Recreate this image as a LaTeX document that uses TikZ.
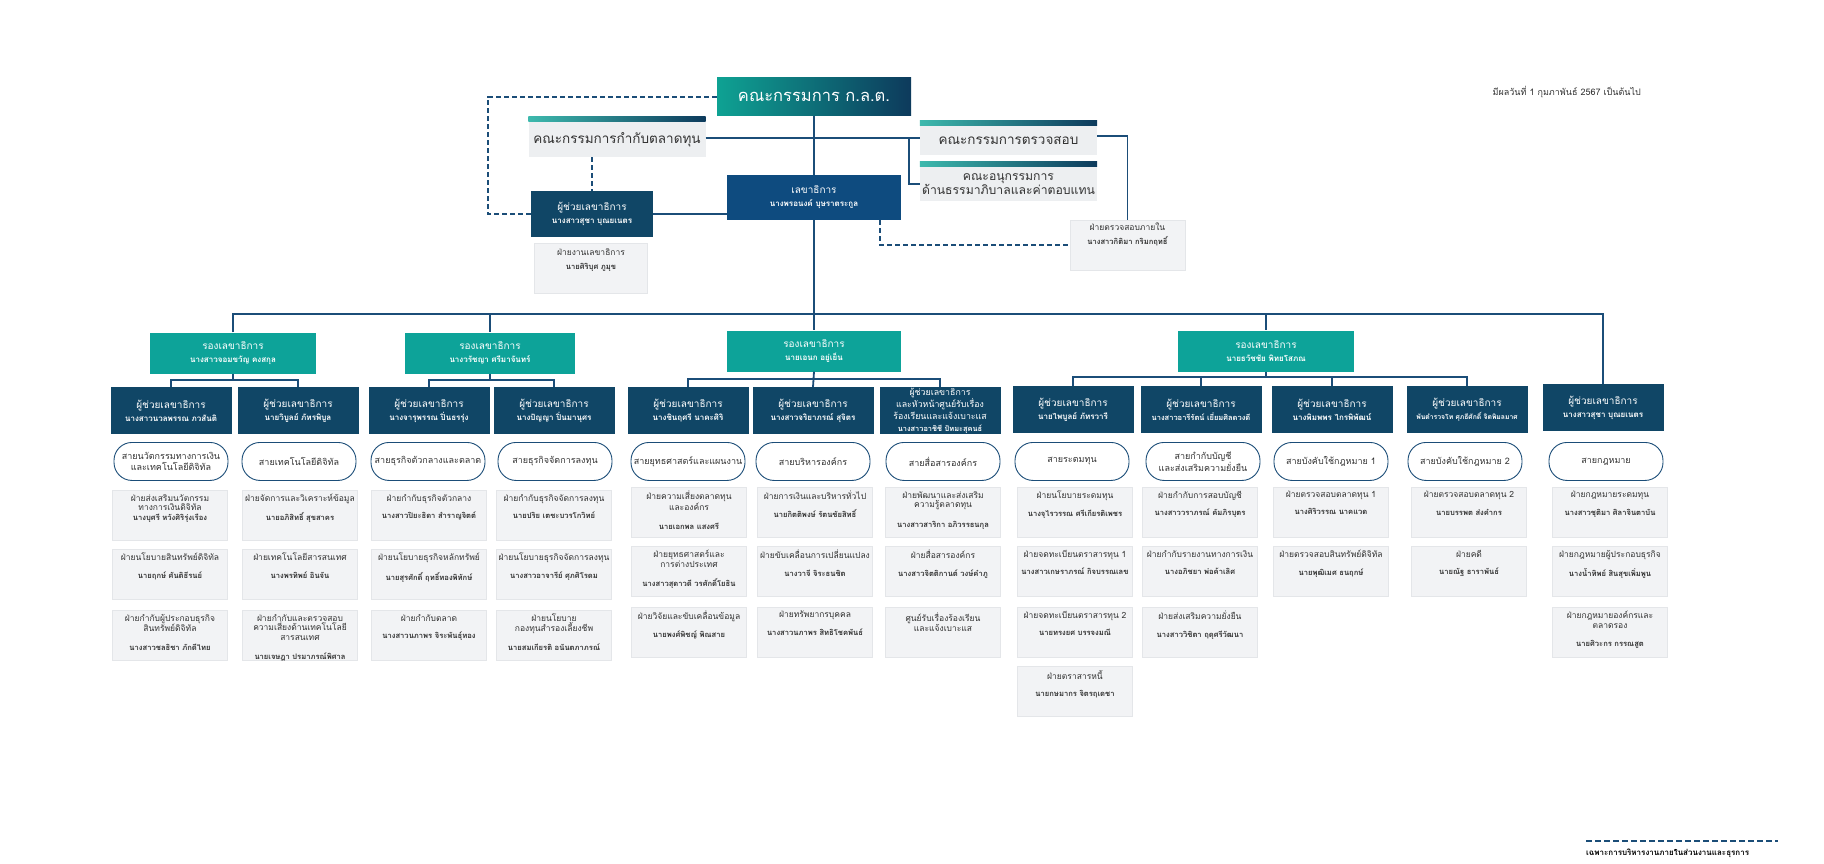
\documentclass[tikz,border=0pt]{standalone}
\usepackage{fontspec}
\setmainfont[Script=Thai]{Loma}
\definecolor{lnc}{HTML}{1B4D78}
\definecolor{tealc}{HTML}{0DA399}
\definecolor{navyc}{HTML}{104666}
\definecolor{sgc}{HTML}{0E4B7F}
\definecolor{boardg}{HTML}{EDEFF1}
\definecolor{boxg}{HTML}{F2F3F5}
\definecolor{boxb}{HTML}{E4E6E9}
\definecolor{gradL}{HTML}{0EA293}
\definecolor{gradR}{HTML}{0D3A5C}
\definecolor{barL}{HTML}{3DB9AD}
\definecolor{txtg}{HTML}{333333}
\tikzset{
 ln/.style={draw=lnc, line width=1.8pt},
 dln/.style={draw=lnc, line width=1.8pt, dash pattern=on 5pt off 3pt},
 depbox/.style={fill=tealc, text=white, minimum height=41pt, align=center, inner sep=0pt},
 asbox/.style={fill=navyc, text=white, minimum width=121pt, minimum height=47pt, align=center, inner sep=0pt, anchor=north},
 pillbox/.style={draw=lnc, line width=0.9pt, fill=white, rounded corners=18pt, minimum width=114pt, minimum height=38pt, align=center, inner sep=0pt, anchor=north, font=\fontsize{9}{10.5}\selectfont, text=txtg},
 dbox/.style={fill=boxg, draw=boxb, line width=0.6pt, minimum width=115pt, minimum height=50pt, anchor=north, inner sep=0pt},
 dtxt/.style={anchor=north, align=center, inner sep=0pt, font=\fontsize{8.5}{9.5}\selectfont, text=txtg},
 board/.style={fill=boardg, minimum width=177pt, align=center, inner sep=0pt, font=\fontsize{13.5}{13}\selectfont, text=txtg},
}
\newcommand\dept[6]{%
  \node[dbox] (#1) at (#2,#3) {};
  \node[dtxt] (#1t) at ([yshift=-4pt]#1.north) {#5\\[#4]{\fontsize{7.6}{9}\selectfont\bfseries #6}};
}
\newcommand\astwo[2]{{\fontsize{10}{11}\selectfont #1}\\[1pt]{\fontsize{8}{9.5}\selectfont\bfseries #2}}
\begin{document}
\begin{tikzpicture}[x=1pt,y=-1pt]
\fill[white] (0,0) rectangle (1824,864);
\useasboundingbox (0,0) rectangle (1824,864);

% ---- top level
\node[left color=gradL, right color=gradR, text=white, minimum width=194pt, minimum height=38pt, font=\fontsize{16.5}{18}\selectfont, inner sep=0pt] (m) at (814,97) {คณะกรรมการ ก.ล.ต.};
\node[board, minimum height=35pt] (b1) at (617,139.5) {คณะกรรมการกำกับตลาดทุน};
\shade[left color=barL, right color=gradR] ([yshift=5pt]b1.north west) rectangle (b1.north east);
\node[board, minimum height=29pt] (b2) at (1008.5,140.5) {คณะกรรมการตรวจสอบ};
\shade[left color=barL, right color=gradR] ([yshift=5pt]b2.north west) rectangle (b2.north east);
\node[board, minimum height=34pt, font=\fontsize{12.2}{12.5}\selectfont] (b3) at (1008.5,184) {คณะอนุกรรมการ\\ด้านธรรมาภิบาลและค่าตอบแทน};
\shade[left color=barL, right color=gradR] ([yshift=5pt]b3.north west) rectangle (b3.north east);

\node[fill=sgc, text=white, minimum width=174pt, minimum height=45pt, align=center, inner sep=0pt] (sg) at (814,197.5) {\astwo{เลขาธิการ}{นางพรอนงค์ บุษราตระกูล}};
\node[fill=navyc, text=white, minimum width=122pt, minimum height=46pt, align=center, inner sep=0pt] (ta) at (592,214) {\astwo{ผู้ช่วยเลขาธิการ}{นางสาวสุชา บุณยเนตร}};
\node[dbox, minimum width=113pt] (sec) at (591,243) {};
\node[dtxt] (sect) at ([yshift=-5pt]sec.north) {ฝ่ายงานเลขาธิการ\\[5pt]{\fontsize{7.6}{9}\selectfont\bfseries นายศิริบุศ ภูมุข}};
\node[dbox] (ins) at (1127.5,219.5) {};
\node[dtxt] (inst) at ([yshift=-3pt]ins.north) {ฝ่ายตรวจสอบภายใน\\[5pt]{\fontsize{7.6}{9}\selectfont\bfseries นางสาวกิติมา กริมกฤทธิ์}};

\node[anchor=east, font=\fontsize{9}{10}\selectfont, text=txtg, inner sep=0pt] (date) at (1641,92) {มีผลวันที่ 1 กุมภาพันธ์ 2567 เป็นต้นไป};

% top connectors
\draw[ln] (m.south) -- (sg.north);
\coordinate (by) at (0,138);
\coordinate (by2) at (0,136);
\draw[ln] (b1.east |- by) -- (b2.west |- by);
\coordinate (br) at (909,138);
\draw[ln] (br) |- (b3.west);
\draw[ln] (b2.east |- by2) -| (ins.north);
\coordinate (dl) at (488,0);
\draw[dln] (m.west) -| (dl |- ta.west) -- (ta.west);
\draw[dln] (ta.north |- b1.south) -- (ta.north);
\draw[ln] (ta.east) -- (ta.east -| sg.west);
\coordinate (dr) at (880,0);
\draw[dln] (sg.south -| dr) |- (ins.west);

% ---- deputies
\node[depbox, minimum width=166pt] (d1) at (233,353) {\astwo{รองเลขาธิการ}{นางสาวจอมขวัญ คงสกุล}};
\node[depbox, minimum width=170pt] (d2) at (490,353) {\astwo{รองเลขาธิการ}{นางวรัชญา ศรีมาจันทร์}};
\node[depbox, minimum width=174pt] (d3) at (814,351) {\astwo{รองเลขาธิการ}{นายเอนก อยู่เย็น}};
\node[depbox, minimum width=176pt] (d4) at (1266,351) {\astwo{รองเลขาธิการ}{นายธวัชชัย พิทยโสภณ}};

% ---- assistant SGs
\node[asbox] (as1) at (171,387) {\astwo{ผู้ช่วยเลขาธิการ}{นางสาวนวลพรรณ ภวสันติ}};
\node[asbox] (as2) at (298,387) {\astwo{ผู้ช่วยเลขาธิการ}{นายวิบูลย์ ภัทรพิบูล}};
\node[asbox] (as3) at (429,387) {\astwo{ผู้ช่วยเลขาธิการ}{นางจารุพรรณ ปิ่นธรรุ่ง}};
\node[asbox] (as4) at (554,387) {\astwo{ผู้ช่วยเลขาธิการ}{นางปัญญา ปิ่นมานุศร}};
\node[asbox] (as5) at (688,387) {\astwo{ผู้ช่วยเลขาธิการ}{นางชินฤศรี นาคะศิริ}};
\node[asbox] (as6) at (813,387) {\astwo{ผู้ช่วยเลขาธิการ}{นางสาวจริยาภรณ์ สุจิตร}};
\node[asbox] (as7) at (940,387) {{\fontsize{8.8}{9.1}\selectfont ผู้ช่วยเลขาธิการ}\\{\fontsize{8.8}{9.1}\selectfont และหัวหน้าศูนย์รับเรื่อง}\\{\fontsize{8.8}{9.1}\selectfont ร้องเรียนและแจ้งเบาะแส}\\{\fontsize{7.4}{9.1}\selectfont\bfseries นางสาวอาชิชี ปัทมะสุคนธ์}};
\node[asbox] (as8) at (1073,386) {\astwo{ผู้ช่วยเลขาธิการ}{นายไพบูลย์ ภัทรวารี}};
\node[asbox] (as9) at (1201,386) {{\fontsize{10}{11}\selectfont ผู้ช่วยเลขาธิการ}\\[1pt]{\fontsize{7.5}{9.5}\selectfont\bfseries นางสาวอารีรัตน์ เยี่ยมศิลดวงดี}};
\node[asbox] (as10) at (1332,386) {\astwo{ผู้ช่วยเลขาธิการ}{นางพิมพพร ไกรพิพัฒน์}};
\node[asbox] (as11) at (1467,386) {{\fontsize{10}{11}\selectfont ผู้ช่วยเลขาธิการ}\\[1pt]{\fontsize{6.8}{9.5}\selectfont\bfseries พันตำรวจโท ศุภธีศักดิ์ จิตพิมลมาศ}};
\node[asbox] (as12) at (1603,384) {\astwo{ผู้ช่วยเลขาธิการ}{นางสาวสุชา บุณยเนตร}};

% bus and drops
\coordinate (bus) at (0,314);
\draw[ln] (sg.south) -- (sg.south |- bus);
\draw[ln] (d1.north) -- (d1.north |- bus) -- (as12.north |- bus) -- (as12.north);
\foreach \n in {d2,d3,d4} \draw[ln] (\n.north |- bus) -- (\n.north);
\coordinate (sb1) at (0,380);
\coordinate (sb3) at (0,379);
\coordinate (sb4) at (0,377);
\draw[ln] (as1.north) -- (as1.north |- sb1) -- (as2.north |- sb1) -- (as2.north);
\draw[ln] (d1.south) -- (d1.south |- sb1);
\draw[ln] (as3.north) -- (as3.north |- sb1) -- (as4.north |- sb1) -- (as4.north);
\draw[ln] (d2.south) -- (d2.south |- sb1);
\draw[ln] (as5.north) -- (as5.north |- sb3) -- (as7.north |- sb3) -- (as7.north);
\draw[ln] (d3.south) -- (as6.north);
\draw[ln] (as8.north) -- (as8.north |- sb4) -- (as11.north |- sb4) -- (as11.north);
\draw[ln] (d4.south) -- (d4.south |- sb4);
\draw[ln] (as9.north |- sb4) -- (as9.north);
\draw[ln] (as10.north |- sb4) -- (as10.north);

% ---- pills
\node[pillbox] (p1) at (171,442) {สายนวัตกรรมทางการเงิน\\และเทคโนโลยีดิจิทัล};
\node[pillbox] (p2) at (299,442) {สายเทคโนโลยีดิจิทัล};
\node[pillbox] (p3) at (428,442) {สายธุรกิจตัวกลางและตลาด};
\node[pillbox] (p4) at (555,442) {สายธุรกิจจัดการลงทุน};
\node[pillbox] (p5) at (688,442) {สายยุทธศาสตร์และแผนงาน};
\node[pillbox] (p6) at (813,442) {สายบริหารองค์กร};
\node[pillbox] (p7) at (943,442) {สายสื่อสารองค์กร};
\node[pillbox] (p8) at (1072,442) {สายระดมทุน};
\node[pillbox] (p9) at (1203,442) {สายกำกับบัญชี\\และส่งเสริมความยั่งยืน};
\node[pillbox] (p10) at (1331,442) {สายบังคับใช้กฎหมาย 1};
\node[pillbox] (p11) at (1465,442) {สายบังคับใช้กฎหมาย 2};
\node[pillbox] (p12) at (1606,442) {สายกฎหมาย};

% ---- departments
\dept{c1r1}{170}{490}{0pt}{ฝ่ายส่งเสริมนวัตกรรม\\ทางการเงินดิจิทัล}{นางบุศรี หวังศิริรุ่งเรือง}
\dept{c1r2}{170}{549}{8pt}{ฝ่ายนโยบายสินทรัพย์ดิจิทัล}{นายฤกษ์ ศันติธีรนย์}
\dept{c1r3}{170}{610}{9pt}{ฝ่ายกำกับผู้ประกอบธุรกิจ\\สินทรัพย์ดิจิทัล}{นางสาวชลธิชา ภักดีไทย}
\dept{c2r1}{300}{490}{8pt}{ฝ่ายจัดการและวิเคราะห์ข้อมูล}{นายอภิสิทธิ์ สุขสาคร}
\dept{c2r2}{300}{549}{8pt}{ฝ่ายเทคโนโลยีสารสนเทศ}{นางพรทิพย์ อินจัน}
\dept{c2r3}{300}{610}{10pt}{ฝ่ายกำกับและตรวจสอบ\\ความเสี่ยงด้านเทคโนโลยี\\สารสนเทศ}{นายเจษฎา ปรมาภรณ์พิศาล}
\dept{c3r1}{429}{490}{8pt}{ฝ่ายกำกับธุรกิจตัวกลาง}{นางสาวปิยะธิดา สำราญจิตต์}
\dept{c3r2}{429}{549}{8pt}{ฝ่ายนโยบายธุรกิจหลักทรัพย์}{นายสุรศักดิ์ ฤทธิ์ทองพิทักษ์}
\dept{c3r3}{429}{610}{8pt}{ฝ่ายกำกับตลาด}{นางสาวนภาพร จิระพันธุ์ทอง}
\dept{c4r1}{554}{490}{8pt}{ฝ่ายกำกับธุรกิจจัดการลงทุน}{นายปริย เตชะบวรโกวิทย์}
\dept{c4r2}{554}{549}{8pt}{ฝ่ายนโยบายธุรกิจจัดการลงทุน}{นางสาวอาจารีย์ ศุภศิโรดม}
\dept{c4r3}{554}{610}{10pt}{ฝ่ายนโยบาย\\กองทุนสำรองเลี้ยงชีพ}{นายสมเกียรติ อนันตภาภรณ์}
\dept{c5r1}{689}{487}{9pt}{ฝ่ายความเสี่ยงตลาดทุน\\และองค์กร}{นายเอกพล แสงศรี}
\dept{c5r2}{689}{546}{10pt}{ฝ่ายยุทธศาสตร์และ\\การต่างประเทศ}{นางสาวสุดาวดี วรศักดิ์โยธิน}
\dept{c5r3}{689}{607}{8pt}{ฝ่ายวิจัยและขับเคลื่อนข้อมูล}{นายพงศ์พิชญ์ พิณสาย}
\dept{c6r1}{815}{487}{8pt}{ฝ่ายการเงินและบริหารทั่วไป}{นายกิตติพงษ์ รัตนชัยสิทธิ์}
\dept{c6r2}{815}{546}{8pt}{ฝ่ายขับเคลื่อนการเปลี่ยนแปลง}{นางวาจี จิระธนชิต}
\dept{c6r3}{815}{607}{8pt}{ฝ่ายทรัพยากรบุคคล}{นางสาวนภาพร สิทธิโชคพันธ์}
\dept{c7r1}{943}{487}{10pt}{ฝ่ายพัฒนาและส่งเสริม\\ความรู้ตลาดทุน}{นางสาวสาริกา อภิวรรธนกุล}
\dept{c7r2}{943}{546}{8pt}{ฝ่ายสื่อสารองค์กร}{นางสาวจิตติกานต์ วงษ์คำภู}
\node[dbox] (c7r3) at (943,607) {};
\node[dtxt] (c7r3t) at ([yshift=-6pt]c7r3.north) {ศูนย์รับเรื่องร้องเรียน\\และแจ้งเบาะแส};
\dept{c8r1}{1075}{487}{8pt}{ฝ่ายนโยบายระดมทุน}{นางจุไรวรรณ ศรีเกียรติเพชร}
\dept{c8r2}{1075}{546}{8pt}{ฝ่ายจดทะเบียนตราสารทุน 1}{นางสาวเกษราภรณ์ กิจบรรณเลข}
\dept{c8r3}{1075}{607}{8pt}{ฝ่ายจดทะเบียนตราสารทุน 2}{นายทรงยศ บรรจงมณี}
\dept{c8r4}{1075}{666}{8pt}{ฝ่ายตราสารหนี้}{นายกษมากร จิตรฤเดชา}
\dept{c9r1}{1200}{487}{8pt}{ฝ่ายกำกับการสอบบัญชี}{นางสาววราภรณ์ คัมภิรบุตร}
\dept{c9r2}{1200}{546}{8pt}{ฝ่ายกำกับรายงานทางการเงิน}{นางอภิชยา พ่อค้าเลิศ}
\dept{c9r3}{1200}{607}{8pt}{ฝ่ายส่งเสริมความยั่งยืน}{นางสาววิชิตา ฤดุศรีวัฒนา}
\dept{c10r1}{1331}{487}{7pt}{ฝ่ายตรวจสอบตลาดทุน 1}{นางศิริวรรณ นาคแวด}
\dept{c10r2}{1331}{546}{8pt}{ฝ่ายตรวจสอบสินทรัพย์ดิจิทัล}{นายพุฒิเมศ ธนฤกษ์}
\dept{c11r1}{1469}{487}{8pt}{ฝ่ายตรวจสอบตลาดทุน 2}{นายบรรพต ส่งคำกร}
\dept{c11r2}{1469}{546}{8pt}{ฝ่ายคดี}{นายณัฐ ธาราพันธ์}
\dept{c12r1}{1610}{487}{8pt}{ฝ่ายกฎหมายระดมทุน}{นางสาวชุติมา ศิลาจินตาบัน}
\dept{c12r2}{1610}{546}{8pt}{ฝ่ายกฎหมายผู้ประกอบธุรกิจ}{นางน้ำทิพย์ สินสุขเพิ่มพูน}
\dept{c12r3}{1610}{607}{9pt}{ฝ่ายกฎหมายองค์กรและ\\ตลาดรอง}{นายศิวะกร กรรณสูต}

% ---- legend
\coordinate (lg1) at (1586,841);
\coordinate (lg2) at (1778,841);
\draw[draw=lnc, line width=1.4pt, dash pattern=on 6pt off 3pt] (lg1) -- (lg2);
\node[anchor=west, inner sep=0pt, font=\fontsize{8}{9}\selectfont\bfseries] (lgt) at (1586,853) {เฉพาะการบริหารงานภายในส่วนงานและธุรการ};
\end{tikzpicture}
\end{document}
